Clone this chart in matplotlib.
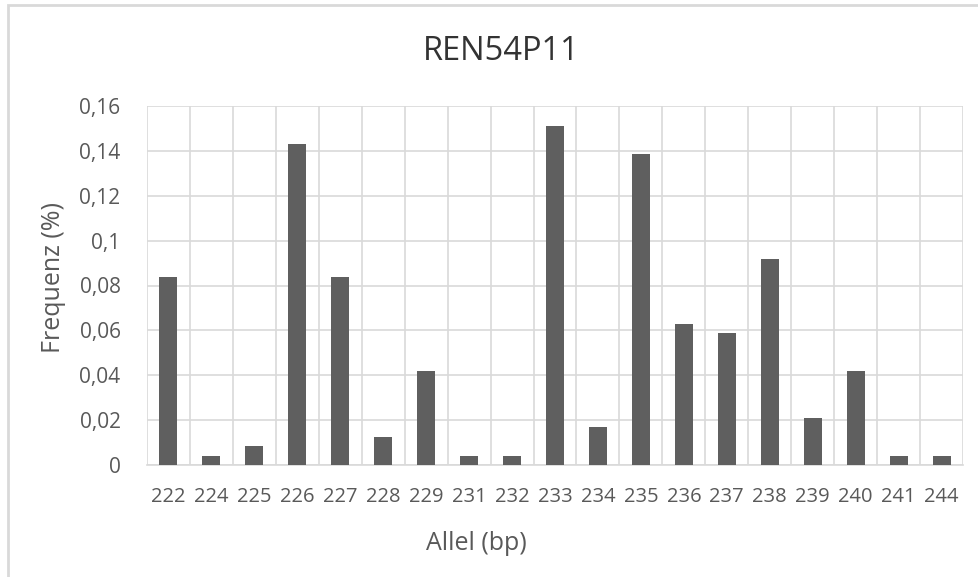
import matplotlib
matplotlib.use("Agg")
import matplotlib.pyplot as plt
from matplotlib.patches import Rectangle

alleles = ["222", "224", "225", "226", "227", "228", "229", "231", "232", "233",
           "234", "235", "236", "237", "238", "239", "240", "241", "244"]
frequencies = [0.084, 0.0042, 0.0084, 0.143, 0.084, 0.0126, 0.042, 0.0042, 0.0042, 0.151,
               0.0168, 0.1387, 0.063, 0.059, 0.092, 0.021, 0.042, 0.0042, 0.0042]
y_ticks = [0, 0.02, 0.04, 0.06, 0.08, 0.1, 0.12, 0.14, 0.16]
y_tick_labels = ["0", "0,02", "0,04", "0,06", "0,08", "0,1", "0,12", "0,14", "0,16"]
title = "REN54P11"
x_label = "Allel (bp)"
y_label = "Frequenz (%)"

plt.rcParams['font.family'] = ['Open Sans', 'DejaVu Sans']
text_color = "#595959"
grid_color = "#d9d9d9"

fig = plt.figure(figsize=(9.79, 5.77), dpi=100)
W, H = 979, 577
ax = fig.add_axes([147 / W, 1 - 465 / H, (963 - 147) / W, (465 - 106) / H])

x = list(range(len(alleles)))
ax.bar(x, frequencies, width=0.42, color="#5f5f5f", zorder=3)

ax.set_xlim(-0.5, len(alleles) - 0.5)
ax.set_ylim(0, 0.16)
ax.set_yticks(y_ticks)
ax.set_yticklabels(y_tick_labels)
ax.set_xticks(x)
ax.set_xticklabels(alleles)
ax.set_xticks([i + 0.5 for i in range(-1, len(alleles))], minor=True)
ax.tick_params(axis='both', which='both', length=0, colors=text_color)
ax.tick_params(axis='x', pad=16, labelsize=14.5)
ax.tick_params(axis='y', pad=19, labelsize=15)
ax.grid(True, axis='y', which='major', color=grid_color, linewidth=1.2, zorder=0)
ax.grid(True, axis='x', which='minor', color=grid_color, linewidth=1.2, zorder=0)
for s in ax.spines.values():
    s.set_visible(False)
ax.spines['bottom'].set_visible(True)
ax.spines['bottom'].set_color(grid_color)
ax.spines['bottom'].set_linewidth(1.2)

fig.text(501 / W, 1 - 52 / H, title, ha='center', va='center', fontsize=23.5, color="#333333")
fig.text(476 / W, 1 - 543 / H, x_label, ha='center', va='center', fontsize=18, color=text_color)
fig.text(54 / W, 1 - 278 / H, y_label, ha='center', va='center', fontsize=18, color=text_color,
         rotation=90)

fig.patches.append(Rectangle((8 / W, -0.1), 1.2, 1 - 5 / H + 0.1, transform=fig.transFigure,
                             fill=False, edgecolor="#d9d9d9", linewidth=2))

fig.savefig("out.png", dpi=100, facecolor="white")
